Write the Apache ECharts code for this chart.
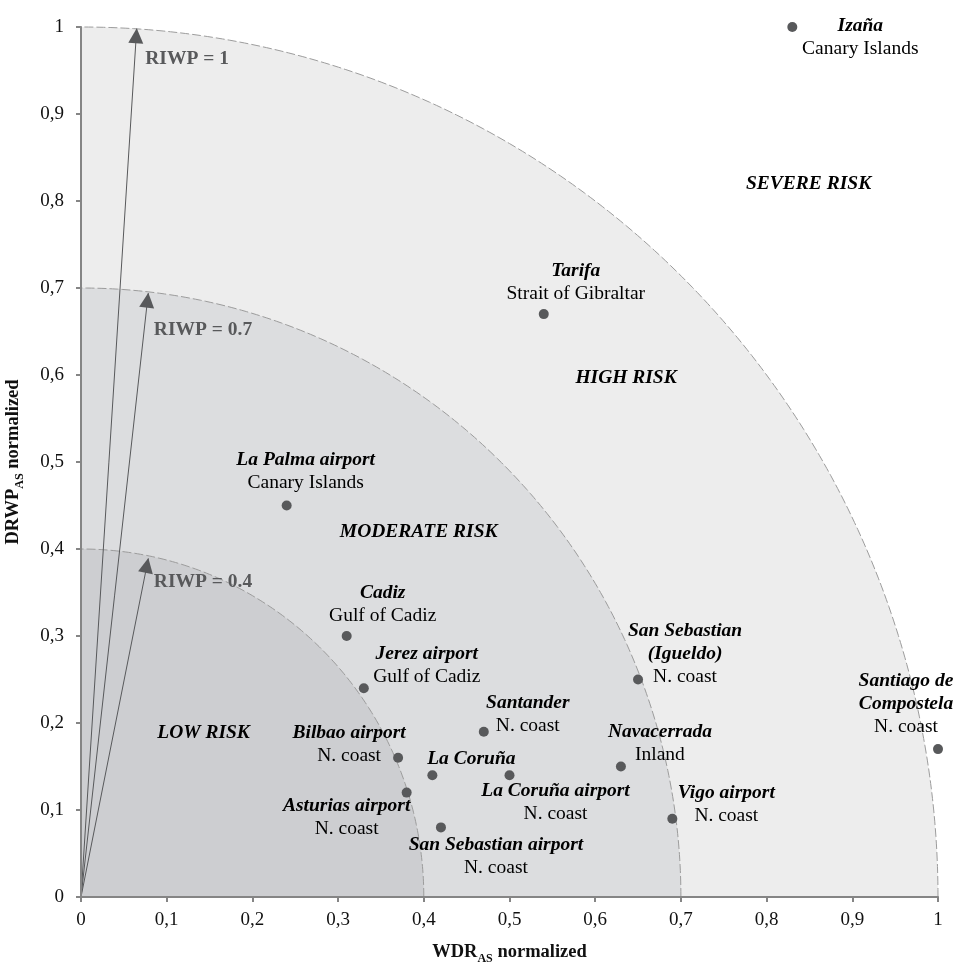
<!DOCTYPE html>
<html>
<head>
<meta charset="utf-8">
<script src="https://cdn.jsdelivr.net/npm/echarts@6/dist/echarts.min.js"></script>
<style>
  html, body { margin: 0; padding: 0; background: #fff; }
  #risk_chart { width: 963px; height: 972px; }
</style>
</head>
<body>
<div id="risk_chart"></div>
<script>
// stations: WDR_AS (x) and DRWP_AS (y), both normalized
var stationNames = ["Izaña", "Tarifa", "La Palma airport", "Cadiz", "Jerez airport",
  "San Sebastian\n(Igueldo)", "Santander", "Santiago de\nCompostela", "Bilbao airport",
  "La Coruña", "La Coruña airport", "Navacerrada", "Asturias airport",
  "San Sebastian airport", "Vigo airport"];
var stationRegions = ["Canary Islands", "Strait of Gibraltar", "Canary Islands", "Gulf of Cadiz",
  "Gulf of Cadiz", "N. coast", "N. coast", "N. coast", "N. coast", "", "N. coast", "Inland",
  "N. coast", "N. coast", "N. coast"];
var wdrValues = [0.83, 0.54, 0.24, 0.31, 0.33, 0.65, 0.47, 1.0, 0.37, 0.41, 0.50, 0.63, 0.38, 0.42, 0.69];
var drwpValues = [1.0, 0.67, 0.45, 0.30, 0.24, 0.25, 0.19, 0.17, 0.16, 0.14, 0.14, 0.15, 0.12, 0.08, 0.09];

// risk zones (quarter circles) and RIWP arrows
var riwpLevels = [1, 0.7, 0.4];
var riwpLabels = ["RIWP = 1", "RIWP = 0.7", "RIWP = 0.4"];
var arrowTipX = [0.065, 0.0785, 0.0785];
var arrowTipY = [0.998, 0.694, 0.389];
var riwpLabelX = [0.075, 0.085, 0.085];
var riwpLabelY = [0.963, 0.652, 0.362];

var riskNames = ["SEVERE RISK", "HIGH RISK", "MODERATE RISK", "LOW RISK"];
var riskX = [0.849, 0.636, 0.394, 0.143];
var riskY = [0.8195, 0.597, 0.42, 0.189];

var serif = "'Liberation Serif', 'Times New Roman', serif";
var zoneFill = ["#ededed", "#dcdddf", "#cdced1"];

// label offsets (px) of each text block centre from its point
var labelOffset = {
  "Izaña": [68, 10],
  "Tarifa": [32, -32],
  "La Palma airport": [19, -34],
  "Cadiz": [36, -32],
  "Jerez airport": [63, -23],
  "San Sebastian\n(Igueldo)": [47, -26],
  "Santander": [44, -17],
  "Santiago de\nCompostela": [-32, -45],
  "Bilbao airport": [-49, -13],
  "La Coruña": [39, -16],
  "La Coruña airport": [46, 27],
  "Navacerrada": [39, -23],
  "Asturias airport": [-60, 25],
  "San Sebastian airport": [55, 29],
  "Vigo airport": [54, -14]
};

function comma(v) {
  return String(Math.round(v * 10) / 10).replace(".", ",");
}

var stationData = stationNames.map(function (name, i) {
  var txt = name.split("\n").map(function (s) { return "{n|" + s + "}"; }).join("\n");
  if (stationRegions[i]) txt += "\n{r|" + stationRegions[i] + "}";
  return {
    value: [wdrValues[i], drwpValues[i]],
    label: { formatter: txt, offset: labelOffset[name] }
  };
});

var chart = echarts.init(document.getElementById("risk_chart"));

var axisCommon = {
  min: 0,
  max: 1,
  interval: 0.1,
  z: 10,
  nameLocation: "middle",
  axisLine: { lineStyle: { color: "#858585", width: 2 } },
  axisTick: { length: 5, lineStyle: { color: "#858585", width: 2 } },
  splitLine: { show: false },
  axisLabel: { color: "#111", fontFamily: serif, fontSize: 19, formatter: comma }
};

var nameRich = {
  a: { fontFamily: serif, fontSize: 18.5, fontWeight: "bold", color: "#111" },
  s: { fontFamily: serif, fontSize: 12, fontWeight: "bold", color: "#111", verticalAlign: "bottom", padding: [0, 0, -3, 0] }
};

var option = {
  animation: false,
  grid: { left: 81, right: 25, top: 27, bottom: 75, outerBoundsMode: "none", containLabel: false },
  xAxis: Object.assign({}, axisCommon, {
    type: "value",
    name: "{a|WDR}{s|AS}{a| normalized}",
    nameGap: 46,
    nameTextStyle: { rich: nameRich },
    axisLabel: Object.assign({}, axisCommon.axisLabel, { margin: 14 })
  }),
  yAxis: Object.assign({}, axisCommon, {
    type: "value",
    name: "{a|DRWP}{s|AS}{a| normalized}",
    nameGap: 58,
    nameTextStyle: { rich: nameRich },
    axisLabel: Object.assign({}, axisCommon.axisLabel, { margin: 17 })
  }),
  series: [
    {
      // risk zones
      type: "custom",
      silent: true,
      z: 1,
      data: riwpLevels.map(function (r) { return [r]; }),
      renderItem: function (params, api) {
        var r = api.value(0);
        var arc = [];
        for (var k = 0; k <= 180; k++) {
          var t = (k / 180) * Math.PI / 2;
          arc.push(api.coord([r * Math.cos(t), r * Math.sin(t)]));
        }
        return {
          type: "group",
          children: [
            { type: "polygon", shape: { points: arc.concat([api.coord([0, 0])]) }, style: { fill: zoneFill[params.dataIndex] } },
            { type: "polyline", shape: { points: arc }, style: { fill: null, stroke: "#9c9c9c", lineWidth: 1, lineDash: [9, 3] } }
          ]
        };
      }
    },
    {
      // RIWP arrows
      type: "line",
      silent: true,
      z: 2,
      data: [],
      markLine: {
        silent: true,
        animation: false,
        symbol: ["none", "triangle"],
        symbolSize: 15,
        symbolOffset: [[0, 0], [0, 7]],
        label: { show: false },
        lineStyle: { color: "#58595b", width: 1, type: "solid", opacity: 1 },
        itemStyle: { color: "#58595b" },
        data: riwpLevels.map(function (r, i) {
          return [{ coord: [0, 0] }, { coord: [arrowTipX[i], arrowTipY[i]] }];
        })
      }
    },
    {
      // RIWP labels
      type: "scatter",
      silent: true,
      z: 3,
      symbolSize: 0,
      itemStyle: { opacity: 1 },
      data: riwpLabels.map(function (t, i) { return { value: [riwpLabelX[i], riwpLabelY[i]], name: t }; }),
      label: {
        show: true, position: "inside", align: "left", verticalAlign: "middle",
        formatter: "{b}", color: "#58595b", fontFamily: serif, fontSize: 19.5, fontWeight: "bold"
      }
    },
    {
      // risk zone names
      type: "scatter",
      silent: true,
      z: 3,
      symbolSize: 0,
      itemStyle: { opacity: 1 },
      data: riskNames.map(function (t, i) { return { value: [riskX[i], riskY[i]], name: t }; }),
      label: {
        show: true, position: "inside", align: "center", verticalAlign: "middle",
        formatter: "{b}", color: "#000", fontFamily: serif, fontSize: 19.5, fontWeight: "bold", fontStyle: "italic"
      }
    },
    {
      // stations
      type: "scatter",
      z: 4,
      symbol: "circle",
      symbolSize: 10,
      itemStyle: { color: "#58595b", opacity: 1 },
      data: stationData,
      label: {
        show: true,
        position: ["50%", "50%"],
        align: "center",
        verticalAlign: "middle",
        rich: {
          n: { fontFamily: serif, fontSize: 19.5, fontWeight: "bold", fontStyle: "italic", color: "#000", lineHeight: 23, align: "center" },
          r: { fontFamily: serif, fontSize: 19.5, color: "#000", lineHeight: 23, align: "center" }
        }
      },
      emphasis: { disabled: true }
    }
  ]
};

chart.setOption(option);
</script>
</body>
</html>
